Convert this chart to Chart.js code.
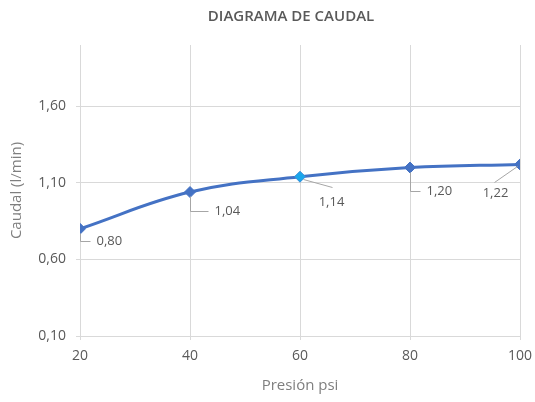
<!DOCTYPE html>
<html>
<head>
<meta charset="utf-8">
<script src="https://cdn.jsdelivr.net/npm/chart.js@4/dist/chart.umd.min.js"></script>
<style>
  html, body { margin: 0; padding: 0; background: #fff; }
  #wrap { width: 535px; height: 402px; }
</style>
</head>
<body>
<div id="wrap"><canvas id="caudal"></canvas></div>
<script>
// datos
var presiones = [20, 40, 60, 80, 100];
var caudales = [0.80, 1.04, 1.14, 1.20, 1.22];
var ticksY = [0.10, 0.60, 1.10, 1.60];
var ticksX = [20, 40, 60, 80, 100];

// donde va cada etiqueta respecto a su punto (px)
// tipo 'codo' = linea baja y gira a la derecha, 'diag' = linea recta
var etiquetas = [
  { tipo: 'codo', dx: 10, dy: 12 },
  { tipo: 'codo', dx: 18, dy: 19 },
  { tipo: 'diag', dx: 32, dy: 10, tx: 31, ty: 25 },
  { tipo: 'codo', dx: 10, dy: 23 },
  { tipo: 'diag', dx: -26, dy: 18, tx: -25, ty: 29 }
];

function coma(v) { return v.toFixed(2).replace('.', ','); }

var etiquetasPlugin = {
  id: 'etiquetas',
  afterDatasetsDraw: function(chart) {
    var ctx = chart.ctx;
    var meta = chart.getDatasetMeta(0);
    ctx.save();
    ctx.strokeStyle = '#a6a6a6';
    ctx.lineWidth = 1;
    ctx.fillStyle = '#595959';
    ctx.font = '13px "Open Sans"';
    ctx.textBaseline = 'middle';
    meta.data.forEach(function(pt, i) {
      var e = etiquetas[i];
      var x = Math.round(pt.x) + 0.5, y = Math.round(pt.y) + 0.5;
      ctx.beginPath();
      if (e.tipo === 'codo') {
        ctx.moveTo(x, y + 4);
        ctx.lineTo(x, y + e.dy);
        ctx.lineTo(x + e.dx, y + e.dy);
        ctx.stroke();
        ctx.textAlign = 'left';
        ctx.fillText(coma(caudales[i]), x + e.dx + 6, y + e.dy);
      } else {
        ctx.moveTo(x + Math.sign(e.dx) * 3, y + 2);
        ctx.lineTo(x + e.dx, y + e.dy);
        ctx.stroke();
        ctx.textAlign = 'center';
        ctx.fillText(coma(caudales[i]), x + e.tx, y + e.ty);
      }
    });
    ctx.restore();
  }
};

var tituloPlugin = {
  id: 'titulo',
  afterDraw: function(chart) {
    var ctx = chart.ctx;
    ctx.save();
    ctx.fillStyle = '#595959';
    ctx.font = '600 15px "Open Sans"';
    ctx.textAlign = 'center';
    ctx.textBaseline = 'middle';
    ctx.fillText('DIAGRAMA DE CAUDAL', 291, 17);
    ctx.restore();
  }
};

var ctxC = document.getElementById('caudal').getContext('2d');
var grafico = new Chart(ctxC, {
  type: 'line',
  data: {
    datasets: [{
      data: presiones.map(function(p, i) { return { x: p, y: caudales[i] }; }),
      borderColor: '#4472c4',
      borderWidth: 3,
      tension: 0.4,
      pointStyle: 'rectRot',
      pointRadius: 5.5,
      pointBackgroundColor: ['#4472c4', '#4472c4', '#1aa7ec', '#4472c4', '#4472c4'],
      pointBorderColor: ['#4472c4', '#4472c4', '#3b8ed8', '#4472c4', '#4472c4'],
      pointBorderWidth: 1
    }]
  },
  options: {
    responsive: true,
    maintainAspectRatio: false,
    animation: false,
    layout: { padding: { top: 45, right: 15, left: 0, bottom: 0 } },
    plugins: {
      legend: { display: false },
      tooltip: { enabled: false }
    },
    scales: {
      x: {
        type: 'linear',
        min: 20,
        max: 100,
        afterBuildTicks: function(s) { s.ticks = ticksX.map(function(v) { return { value: v }; }); },
        afterFit: function(s) { s.height = 66; s.paddingLeft = 0; s.paddingRight = 0; },
        grid: { color: '#d9d9d9', tickLength: 4, tickColor: '#d9d9d9' },
        border: { display: false },
        ticks: {
          color: '#595959',
          font: { family: 'Open Sans', size: 14 },
          padding: 8,
          maxRotation: 0
        },
        title: {
          display: true,
          text: 'Presión psi',
          color: '#7f7f7f',
          font: { family: 'Open Sans', size: 15 },
          padding: { top: 0, bottom: 7 }
        }
      },
      y: {
        min: 0.10,
        max: 2.0,
        afterBuildTicks: function(s) { s.ticks = ticksY.map(function(v) { return { value: v }; }); },
        afterFit: function(s) { s.width = 80; s.paddingTop = 0; s.paddingBottom = 0; },
        grid: { color: '#d9d9d9', tickLength: 4, tickColor: '#d9d9d9' },
        border: { display: false },
        ticks: {
          color: '#595959',
          font: { family: 'Open Sans', size: 14 },
          padding: 10,
          callback: function(v) { return coma(v); }
        },
        title: {
          display: true,
          text: 'Caudal (l/min)',
          color: '#7f7f7f',
          font: { family: 'Open Sans', size: 15 },
          padding: { top: 8, bottom: 0 }
        }
      }
    }
  },
  plugins: [etiquetasPlugin, tituloPlugin]
});
</script>
</body>
</html>
